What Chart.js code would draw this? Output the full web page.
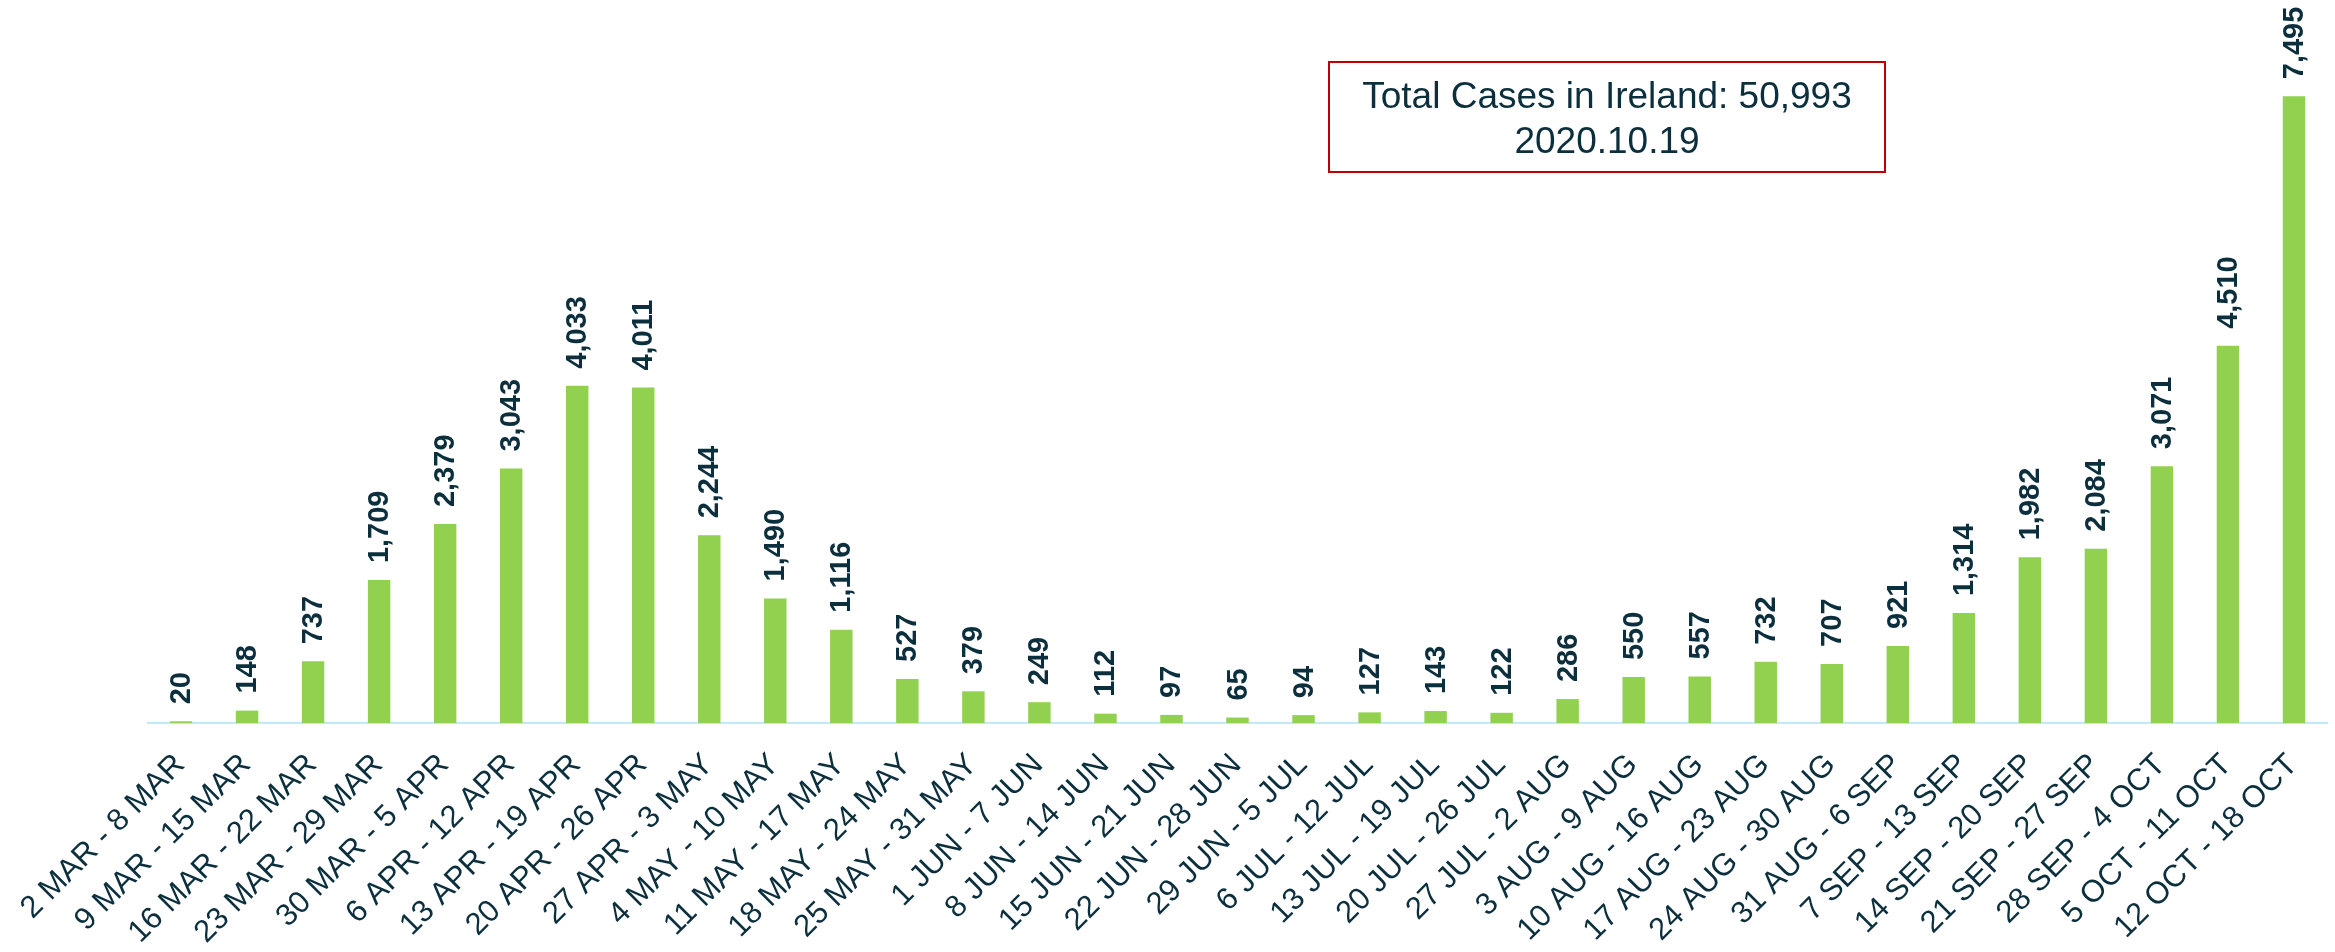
<!DOCTYPE html>
<html>
<head>
<meta charset="utf-8">
<script src="https://cdn.jsdelivr.net/npm/chart.js@4/dist/chart.umd.min.js"></script>
<style>
  html, body { margin: 0; padding: 0; background: #ffffff; }
  #wrap { width: 2335px; height: 952px; position: relative; }
</style>
</head>
<body>
<div id="wrap"><canvas id="chart" width="2335" height="952"></canvas></div>
<script>
// Weekly confirmed COVID-19 cases, Ireland, March - October 2020
const weeks = [
  "2 MAR - 8 MAR", "9 MAR - 15 MAR", "16 MAR - 22 MAR", "23 MAR - 29 MAR",
  "30 MAR - 5 APR", "6 APR - 12 APR", "13 APR - 19 APR", "20 APR - 26 APR",
  "27 APR - 3 MAY", "4 MAY - 10 MAY", "11 MAY - 17 MAY", "18 MAY - 24 MAY",
  "25 MAY - 31 MAY", "1 JUN - 7 JUN", "8 JUN - 14 JUN", "15 JUN - 21 JUN",
  "22 JUN - 28 JUN", "29 JUN - 5 JUL", "6 JUL - 12 JUL", "13 JUL - 19 JUL",
  "20 JUL - 26 JUL", "27 JUL - 2 AUG", "3 AUG - 9 AUG", "10 AUG - 16 AUG",
  "17 AUG - 23 AUG", "24 AUG - 30 AUG", "31 AUG - 6 SEP", "7 SEP - 13 SEP",
  "14 SEP - 20 SEP", "21 SEP - 27 SEP", "28 SEP - 4 OCT", "5 OCT - 11 OCT",
  "12 OCT - 18 OCT"
];

const weeklyCases = [
  20, 148, 737, 1709, 2379, 3043, 4033, 4011, 2244, 1490, 1116, 527,
  379, 249, 112, 97, 65, 94, 127, 143, 122, 286, 550, 557,
  732, 707, 921, 1314, 1982, 2084, 3071, 4510, 7495
];

const summaryLines = ["Total Cases in Ireland: 50,993", "2020.10.19"];

const INK = "#0c2f3d";
const FONT = "'Liberation Sans', Arial, sans-serif";

// Week labels under the axis, slanted at 45 degrees and ending at each tick
const slantedWeekLabels = {
  id: "slantedWeekLabels",
  afterDraw(chart) {
    const scale = chart.scales.x;
    const ctx = chart.ctx;
    ctx.save();
    ctx.fillStyle = INK;
    ctx.font = "31px " + FONT;
    ctx.textAlign = "right";
    ctx.textBaseline = "alphabetic";
    scale.ticks.forEach((t, i) => {
      const x = scale.getPixelForTick(i);
      ctx.save();
      ctx.translate(x + 5, scale.top + 43);
      ctx.rotate(-Math.PI / 4);
      ctx.fillText(chart.data.labels[i], 0, 0);
      ctx.restore();
    });
    ctx.restore();
  }
};

// Vertical value labels above each bar
const valueLabels = {
  id: "valueLabels",
  afterDatasetsDraw(chart) {
    const ctx = chart.ctx;
    const meta = chart.getDatasetMeta(0);
    ctx.save();
    ctx.fillStyle = INK;
    ctx.font = "bold 29px " + FONT;
    ctx.textAlign = "left";
    ctx.textBaseline = "middle";
    meta.data.forEach((bar, i) => {
      const v = chart.data.datasets[0].data[i];
      ctx.save();
      ctx.translate(bar.x + 1, bar.y - 17);
      ctx.rotate(-Math.PI / 2);
      ctx.fillText(v.toLocaleString("en-US"), 0, 0);
      ctx.restore();
    });
    ctx.restore();
  }
};

// Boxed summary note
const summaryBox = {
  id: "summaryBox",
  afterDraw(chart) {
    const ctx = chart.ctx;
    const x = 1329, y = 62, w = 556, h = 110;
    ctx.save();
    ctx.fillStyle = "#ffffff";
    ctx.fillRect(x, y, w, h);
    ctx.strokeStyle = "#c00000";
    ctx.lineWidth = 2;
    ctx.strokeRect(x, y, w, h);
    ctx.fillStyle = INK;
    ctx.font = "37px " + FONT;
    ctx.textAlign = "center";
    ctx.textBaseline = "alphabetic";
    ctx.fillText(summaryLines[0], x + w / 2, 108);
    ctx.fillText(summaryLines[1], x + w / 2, 153);
    ctx.restore();
  }
};

new Chart(document.getElementById("chart"), {
  type: "bar",
  data: {
    labels: weeks,
    datasets: [{
      data: weeklyCases,
      backgroundColor: "#92d050",
      borderWidth: 0,
      barPercentage: 0.34,
      categoryPercentage: 1.0
    }]
  },
  options: {
    responsive: false,
    animation: false,
    devicePixelRatio: 1,
    layout: { padding: { left: 148, right: 8, top: 54, bottom: 0 } },
    plugins: {
      legend: { display: false },
      tooltip: { enabled: false },
      title: { display: false }
    },
    scales: {
      x: {
        grid: { display: false, drawTicks: false },
        border: { display: true, color: "#c2e9f8", width: 2 },
        ticks: { display: false, autoSkip: false },
        afterFit(scale) { scale.height = 229; }
      },
      y: {
        display: false,
        min: 0,
        max: 8000
      }
    }
  },
  plugins: [valueLabels, slantedWeekLabels, summaryBox]
});
</script>
</body>
</html>
